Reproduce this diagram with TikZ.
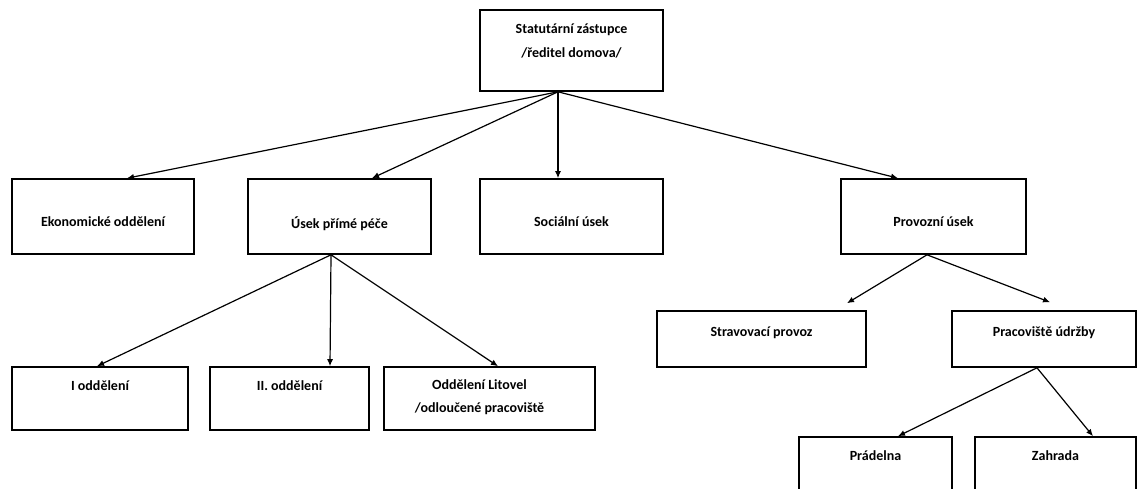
\documentclass[tikz,border=0pt]{standalone}
\usepackage{fontspec}
\setmainfont{Carlito}
\usepackage{tikz}
\usetikzlibrary{arrows.meta}

\begin{document}
\begin{tikzpicture}[x=1pt,y=-1pt,
	box/.style={draw,line width=1.6pt,rectangle,inner sep=0pt},
	lbl/.style={font=\bfseries\fontsize{14}{24}\selectfont,align=center,inner sep=0pt},
	conn/.style={-{Latex[length=7pt,width=6pt]},line width=1.2pt}]
\clip (0,0) rectangle (1139,488);
\node[box,minimum width=183pt,minimum height=81pt,
	label={[lbl,below=14pt]north:Statutární zástupce\\/ředitel domova/}] (stat) at (571.5,50.5) {};
\node[box,minimum width=182pt,minimum height=75pt,
	label={[lbl,below=38pt]north:Ekonomické oddělení}] (ekon) at (103,216.5) {};
\node[box,minimum width=183pt,minimum height=75pt,
	label={[lbl,below=38pt]north:Úsek přímé péče}] (usek) at (339.5,216.5) {};
\node[box,minimum width=183pt,minimum height=75pt,
	label={[lbl,below=38pt]north:Sociální úsek}] (soc) at (571.5,216.5) {};
\node[box,minimum width=185pt,minimum height=75pt,
	label={[lbl,below=38pt]north:Provozní úsek}] (prov) at (933.5,216.5) {};
\node[box,minimum width=176pt,minimum height=63pt,
	label={[lbl,below=14pt]north:I oddělení}] (odd1) at (100,398.5) {};
\node[box,minimum width=159pt,minimum height=63pt,
	label={[lbl,below=14pt]north:II. oddělení}] (odd2) at (289.5,398.5) {};
\node[box,minimum width=211pt,minimum height=63pt,
	label={[lbl,below=13pt,xshift=-10pt,font=\bfseries\fontsize{14}{23}\selectfont]north:Oddělení Litovel\\/odloučené pracoviště}] (litovel) at (489.5,398.5) {};
\node[box,minimum width=209pt,minimum height=56pt,
	label={[lbl,below=16pt]north:Stravovací provoz}] (strav) at (761.5,339) {};
\node[box,minimum width=184pt,minimum height=56pt,
	label={[lbl,below=16pt]north:Pracoviště údržby}] (prac) at (1044,339) {};
\node[box,minimum width=153pt,minimum height=80pt,
	label={[lbl,below=14pt]north:Prádelna}] (prad) at (875.5,477) {};
\node[box,minimum width=161pt,minimum height=80pt,
	label={[lbl,below=14pt]north:Zahrada}] (zahr) at (1055.5,477) {};
\draw[conn] ([xshift=-13.5pt]stat.south) -- ([xshift=24pt]ekon.north);
\draw[conn] ([xshift=-13.5pt]stat.south) -- ([xshift=32.5pt]usek.north);
\draw[conn] ([xshift=-13.5pt]stat.south) -- ([xshift=-13.5pt]soc.north);
\draw[conn] ([xshift=-13.5pt]stat.south) -- ([xshift=-35.5pt]prov.north);
\draw[conn] ([xshift=-8.5pt]usek.south) -- ([xshift=-3pt]odd1.north);
\draw[conn] ([xshift=-8.5pt]usek.south) -- ([xshift=40.5pt]odd2.north);
\draw[conn] ([xshift=-8.5pt]usek.south) -- ([xshift=8.5pt]litovel.north);
\draw[conn] ([xshift=-6.5pt]prov.south) -- ([xshift=85.5pt,yshift=7pt]strav.north);
\draw[conn] ([xshift=-6.5pt]prov.south) -- ([xshift=6pt,yshift=8pt]prac.north);
\draw[conn] ([xshift=-7pt]prac.south) -- ([xshift=22.5pt]prad.north);
\draw[conn] ([xshift=-7pt]prac.south) -- ([xshift=37.5pt]zahr.north);
\end{tikzpicture}
\end{document}
